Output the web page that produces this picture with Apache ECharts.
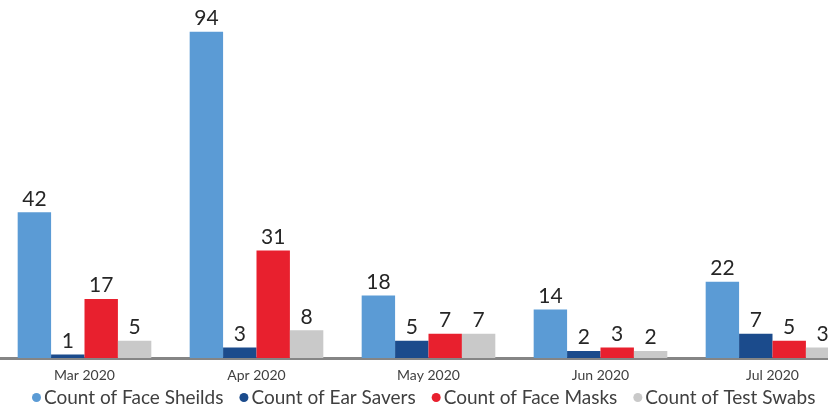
<!DOCTYPE html>
<html>
<head>
<meta charset="utf-8">
<script src="https://cdn.jsdelivr.net/npm/echarts@6/dist/echarts.min.js"></script>
<style>
  html, body { margin: 0; padding: 0; background: #ffffff; }
  #chart { width: 828px; height: 412px; }
</style>
</head>
<body>
<div id="chart"></div>
<script>
// Monthly production counts, March to July 2020
const months = ['Mar 2020', 'Apr 2020', 'May 2020', 'Jun 2020', 'Jul 2020'];
const faceShields = [42, 94, 18, 14, 22];
const earSavers = [1, 3, 5, 2, 7];
const faceMasks = [17, 31, 7, 3, 5];
const testSwabs = [5, 8, 7, 2, 3];

const seriesNames = ['Count of Face Sheilds', 'Count of Ear Savers', 'Count of Face Masks', 'Count of Test Swabs'];
const seriesData = [faceShields, earSavers, faceMasks, testSwabs];
const seriesColors = ['#5b9bd5', '#1b4b8c', '#e8202e', '#c9c9c9'];

const font = 'Lato, "Open Sans", sans-serif';

const chart = echarts.init(document.getElementById('chart'));
chart.setOption({
  animation: false,
  backgroundColor: '#ffffff',
  // plot area runs past the right edge so the last group is cut off
  grid: {
    left: -1.5, width: 860, top: 11, height: 347,
    containLabel: false,
    outerBoundsMode: 'none'
  },
  legend: {
    bottom: 0,
    left: 27,
    icon: 'circle',
    itemWidth: 9,
    itemHeight: 9,
    itemGap: 16,
    textStyle: { fontFamily: font, fontSize: 19, color: '#404040', padding: [0, 0, 0, -2] },
    data: seriesNames
  },
  xAxis: {
    type: 'category',
    data: months,
    axisLine: { show: true, lineStyle: { color: '#858585', width: 3, cap: 'round' } },
    axisTick: { show: false },
    axisLabel: { fontFamily: font, fontSize: 14, color: '#404040', margin: 10 }
  },
  yAxis: {
    type: 'value',
    min: 0,
    max: 100,
    show: false,
    splitLine: { show: false }
  },
  series: seriesNames.map((name, i) => ({
    name: name,
    type: 'bar',
    data: seriesData[i],
    barGap: '0%',
    barCategoryGap: '22.3%',
    itemStyle: { color: seriesColors[i] },
    label: {
      show: true,
      position: 'top',
      distance: 3,
      fontFamily: font,
      fontSize: 21,
      color: '#262626'
    }
  }))
});
</script>
</body>
</html>
